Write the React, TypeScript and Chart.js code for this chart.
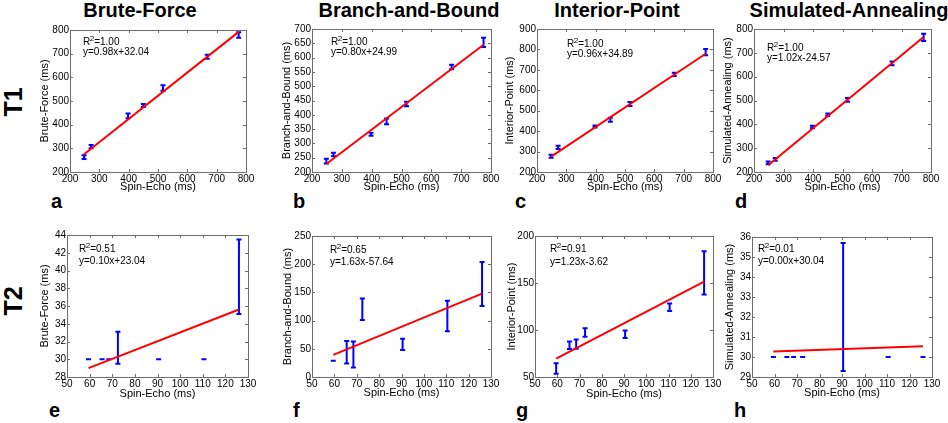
import React, { useEffect, useRef } from 'react';
import { Chart, registerables } from 'chart.js';
Chart.register(...registerables);

const FONT = "'Liberation Sans', Arial, Helvetica, sans-serif";

// ---------- text ----------
const columnTitles = ['Brute-Force', 'Branch-and-Bound', 'Interior-Point', 'Simulated-Annealing'];
const rowLabels = ['T1', 'T2'];
const panelLetters = ['a', 'b', 'c', 'd', 'e', 'f', 'g', 'h'];
const xAxisTitle = 'Spin-Echo (ms)';
const yAxisTitles = ['Brute-Force (ms)', 'Branch-and-Bound (ms)', 'Interior-Point (ms)', 'Simulated-Annealing (ms)'];
const r2Labels = ['1.00', '1.00', '1.00', '1.00', '0.51', '0.65', '0.91', '0.01'];
const equationLabels = [
  'y=0.98x+32.04', 'y=0.80x+24.99', 'y=0.96x+34.89', 'y=1.02x-24.57',
  'y=0.10x+23.04', 'y=1.63x-57.64', 'y=1.23x-3.62', 'y=0.00x+30.04',
];

// ---------- T1 data ----------
const t1SpinEcho = [248, 272, 398, 450, 517, 668, 775];
const t1Brute = [263, 307, 437, 481, 555, 687, 779];
const t1BruteErr = [8, 7, 10, 6, 12, 8, 12];
const t1Branch = [238, 261, 332, 377, 438, 567, 653];
const t1BranchErr = [8, 6, 5, 10, 8, 8, 16];
const t1Interior = [277, 321, 423, 456, 533, 678, 787];
const t1InteriorErr = [7, 8, 5, 10, 10, 8, 15];
const t1Annealing = [238, 253, 389, 440, 503, 656, 765];
const t1AnnealingErr = [6, 6, 5, 5, 8, 8, 15];

// fit-line end points (x at first / last spin-echo value)
const t1BruteFit = [275, 792];
const t1BranchFit = [228, 645];
const t1InteriorFit = [275, 779];
const t1AnnealingFit = [228, 766];

// ---------- T2 data ----------
const t2SpinEcho = [59.5, 65.5, 68.5, 72.5, 90.5, 110.5, 126];
const t2Brute = [30, 30, 30, 31.3, 30, 30, 39.3];
const t2BruteErr = [0, 0, 0, 1.8, 0, 0, 4.2];
const t2Branch = [29, 44, 40, 120, 58, 108, 165];
const t2BranchErr = [0, 20, 23, 19, 10, 27, 39];
const t2Interior = [59, 83.7, 85, 97.3, 95.5, 124.3, 160.8];
const t2InteriorErr = [5.6, 4, 5, 4.6, 4, 4, 23];
const t2Annealing = [30, 30, 30, 30, 32.5, 30, 30];
const t2AnnealingErr = [0, 0, 0, 0, 3.2, 0, 0];

const t2BruteFit = [29.0, 35.6];
const t2BranchFit = [39.3, 147.7];
const t2InteriorFit = [69.6, 151.4];
const t2AnnealingFit = [30.27, 30.54];

// ---------- tick labels ----------
const t1XTicks = [200, 300, 400, 500, 600, 700, 800];
const t2XTicks = [50, 60, 70, 80, 90, 100, 110, 120, 130];
const t1BruteYTicks = [200, 300, 400, 500, 600, 700, 800];
const t1BranchYTicks = [200, 250, 300, 350, 400, 450, 500, 550, 600, 650, 700];
const t1InteriorYTicks = [200, 300, 400, 500, 600, 700, 800, 900];
const t1AnnealingYTicks = [200, 300, 400, 500, 600, 700, 800];
const t2BruteYTicks = [28, 30, 32, 34, 36, 38, 40, 42, 44];
const t2BranchYTicks = [0, 50, 100, 150, 200, 250];
const t2InteriorYTicks = [50, 100, 150, 200];
const t2AnnealingYTicks = [29, 30, 31, 32, 33, 34, 35, 36];

// ---------- panel assembly ----------
const panelData = [
  { x: t1SpinEcho, y: t1Brute, err: t1BruteErr, fit: t1BruteFit, xt: t1XTicks, yt: t1BruteYTicks },
  { x: t1SpinEcho, y: t1Branch, err: t1BranchErr, fit: t1BranchFit, xt: t1XTicks, yt: t1BranchYTicks },
  { x: t1SpinEcho, y: t1Interior, err: t1InteriorErr, fit: t1InteriorFit, xt: t1XTicks, yt: t1InteriorYTicks },
  { x: t1SpinEcho, y: t1Annealing, err: t1AnnealingErr, fit: t1AnnealingFit, xt: t1XTicks, yt: t1AnnealingYTicks },
  { x: t2SpinEcho, y: t2Brute, err: t2BruteErr, fit: t2BruteFit, xt: t2XTicks, yt: t2BruteYTicks },
  { x: t2SpinEcho, y: t2Branch, err: t2BranchErr, fit: t2BranchFit, xt: t2XTicks, yt: t2BranchYTicks },
  { x: t2SpinEcho, y: t2Interior, err: t2InteriorErr, fit: t2InteriorFit, xt: t2XTicks, yt: t2InteriorYTicks },
  { x: t2SpinEcho, y: t2Annealing, err: t2AnnealingErr, fit: t2AnnealingFit, xt: t2XTicks, yt: t2AnnealingYTicks },
];

// layout: plot rect [left, top, right, bottom], y-title offset, x-title offset, note [x, baseline1, baseline2], letter [x, baseline]
const panelLayout = [
  { rect: [70, 30, 246, 172], yOff: 25, xOff: 15, note: [83, 45, 55], letter: [51, 208] },
  { rect: [312, 29, 491, 172], yOff: 25, xOff: 15, note: [331, 45, 55], letter: [293, 208] },
  { rect: [537, 29, 713, 172], yOff: 27, xOff: 15, note: [567, 47, 57], letter: [515, 208] },
  { rect: [754, 29, 931, 172], yOff: 26, xOff: 15, note: [767, 51, 61], letter: [735, 208] },
  { rect: [67, 235, 248, 377], yOff: 22, xOff: 17, note: [79, 252, 264], letter: [49, 417] },
  { rect: [312, 236, 491, 377], yOff: 24, xOff: 16, note: [330, 253, 265], letter: [293, 417] },
  { rect: [535, 236, 713, 377], yOff: 23, xOff: 17, note: [550, 252, 265], letter: [516, 417] },
  { rect: [752, 237, 932, 377], yOff: 22, xOff: 16, note: [758, 252, 264], letter: [734, 417] },
];

const titleCenters = [140, 409, 617, 849];
const rowCenters = [102, 301];

const PAD_TOP = 8;
const PAD_RIGHT = 12;

function Panel({ idx }: { idx: number }) {
  const ref = useRef<HTMLCanvasElement | null>(null);
  const d = panelData[idx];
  const L = panelLayout[idx];
  const [l, t, r, b] = L.rect;
  const W = Math.round(L.yOff + 6.6);
  const H = Math.round(L.xOff + 6.6);
  const cLeft = l - W;
  const cTop = t - PAD_TOP;
  const cW = r - l + W + PAD_RIGHT;
  const cH = b - t + PAD_TOP + H;

  useEffect(() => {
    if (!ref.current) return;
    const xs = d.x;
    const decor = {
      id: 'decor' + idx,
      beforeDatasetsDraw(chart: any) {
        const ctx = chart.ctx;
        const sx = chart.scales.x;
        const sy = chart.scales.y;
        ctx.save();
        ctx.strokeStyle = '#0000ff';
        ctx.lineWidth = 2;
        ctx.lineCap = 'butt';
        for (let i = 0; i < xs.length; i++) {
          const px = sx.getPixelForValue(xs[i]);
          const top = sy.getPixelForValue(d.y[i] + d.err[i]);
          const bot = sy.getPixelForValue(d.y[i] - d.err[i]);
          ctx.beginPath();
          if (d.err[i] > 0) {
            ctx.moveTo(px, top);
            ctx.lineTo(px, bot);
          }
          ctx.moveTo(px - 2.5, top);
          ctx.lineTo(px + 2.5, top);
          ctx.moveTo(px - 2.5, bot);
          ctx.lineTo(px + 2.5, bot);
          ctx.stroke();
        }
        ctx.restore();
      },
      afterDraw(chart: any) {
        const ctx = chart.ctx;
        const a = chart.chartArea;
        const sx = chart.scales.x;
        const sy = chart.scales.y;
        ctx.save();
        ctx.strokeStyle = '#6e6e6e';
        ctx.lineWidth = 1;
        ctx.strokeRect(Math.round(a.left) + 0.5, Math.round(a.top) + 0.5, Math.round(a.right - a.left), Math.round(a.bottom - a.top));
        ctx.beginPath();
        d.xt.forEach((v: number) => {
          const px = Math.round(sx.getPixelForValue(v)) + 0.5;
          ctx.moveTo(px, a.bottom);
          ctx.lineTo(px, a.bottom - 3);
          ctx.moveTo(px, a.top);
          ctx.lineTo(px, a.top + 3);
        });
        d.yt.forEach((v: number) => {
          const py = Math.round(sy.getPixelForValue(v)) + 0.5;
          ctx.moveTo(a.left, py);
          ctx.lineTo(a.left + 3, py);
          ctx.moveTo(a.right, py);
          ctx.lineTo(a.right - 3, py);
        });
        ctx.stroke();
        // annotation
        ctx.fillStyle = '#000';
        ctx.textBaseline = 'alphabetic';
        ctx.textAlign = 'left';
        const nx = L.note[0] - cLeft;
        const ny1 = L.note[1] - cTop;
        const ny2 = L.note[2] - cTop;
        ctx.font = `10px ${FONT}`;
        ctx.fillText('R', nx, ny1);
        let w = ctx.measureText('R').width;
        ctx.font = `8px ${FONT}`;
        ctx.fillText('2', nx + w - 0.5, ny1 - 4);
        w += ctx.measureText('2').width - 0.5;
        ctx.font = `10px ${FONT}`;
        ctx.fillText('=' + r2Labels[idx], nx + w, ny1);
        ctx.fillText(equationLabels[idx], nx, ny2);
        ctx.restore();
      },
    };

    const axisCommon = (ticksArr: number[]) => ({
      type: 'linear' as const,
      min: ticksArr[0],
      max: ticksArr[ticksArr.length - 1],
      grid: { display: false, drawTicks: false },
      border: { display: false },
      ticks: {
        font: { size: 10, family: FONT },
        color: '#000',
        padding: 1,
        maxRotation: 0,
        autoSkip: false,
        callback: (v: any) => String(v),
      },
      afterBuildTicks: (s: any) => {
        s.ticks = ticksArr.map((v) => ({ value: v }));
      },
    });

    const chart = new Chart(ref.current, {
      type: 'scatter',
      data: {
        datasets: [
          {
            data: xs.map((x: number, i: number) => ({ x, y: d.y[i] })),
            pointRadius: 0,
            showLine: false,
          },
          {
            data: [
              { x: xs[0], y: d.fit[0] },
              { x: xs[xs.length - 1], y: d.fit[1] },
            ],
            showLine: true,
            borderColor: '#ff0000',
            borderWidth: 2,
            pointRadius: 0,
          },
        ],
      },
      options: {
        responsive: false,
        animation: false,
        events: [],
        layout: { padding: { top: PAD_TOP, right: PAD_RIGHT, left: 0, bottom: 0 } },
        plugins: { legend: { display: false }, tooltip: { enabled: false } },
        scales: {
          x: {
            ...axisCommon(d.xt),
            title: { display: true, text: xAxisTitle, color: '#000', font: { size: 11, family: FONT, lineHeight: 1.2 }, padding: 0 },
            afterFit: (s: any) => {
              s.height = H;
            },
          },
          y: {
            ...axisCommon(d.yt),
            title: { display: true, text: yAxisTitles[idx % 4], color: '#000', font: { size: 11, family: FONT, lineHeight: 1.2 }, padding: 0 },
            afterFit: (s: any) => {
              s.width = W;
            },
          },
        } as any,
      },
      plugins: [decor],
    });
    return () => chart.destroy();
  }, []);

  return (
    <canvas
      ref={ref}
      width={cW}
      height={cH}
      style={{ position: 'absolute', left: cLeft, top: cTop, width: cW, height: cH }}
    />
  );
}

function TextAt({ text, x, baseline, size, center }: { text: string; x: number; baseline: number; size: number; center?: boolean }) {
  const top = baseline - 0.8465 * size;
  return (
    <div
      style={{
        position: 'absolute',
        left: center ? x - 200 : x,
        width: center ? 400 : undefined,
        textAlign: center ? 'center' : 'left',
        top,
        fontFamily: FONT,
        fontWeight: 'bold',
        fontSize: size,
        lineHeight: `${size}px`,
        whiteSpace: 'nowrap',
        color: '#000',
      }}
    >
      {text}
    </div>
  );
}

export default function App() {
  return (
    <div style={{ position: 'absolute', left: 0, top: 0, width: 948, height: 423, background: '#fff', overflow: 'hidden' }}>
      {columnTitles.map((t, i) => (
        <TextAt key={'t' + i} text={t} x={titleCenters[i]} baseline={17} size={20} center />
      ))}
      {rowLabels.map((t, i) => (
        <div
          key={'r' + i}
          style={{
            position: 'absolute',
            left: 13,
            top: rowCenters[i],
            transform: 'translate(-50%, -50%) rotate(-90deg)',
            fontFamily: FONT,
            fontWeight: 'bold',
            fontSize: 25,
            lineHeight: '25px',
            whiteSpace: 'nowrap',
          }}
        >
          {t}
        </div>
      ))}
      {panelLetters.map((t, i) => (
        <TextAt key={'l' + i} text={t} x={panelLayout[i].letter[0]} baseline={panelLayout[i].letter[1]} size={20} />
      ))}
      {panelData.map((_, i) => (
        <Panel key={'p' + i} idx={i} />
      ))}
    </div>
  );
}
